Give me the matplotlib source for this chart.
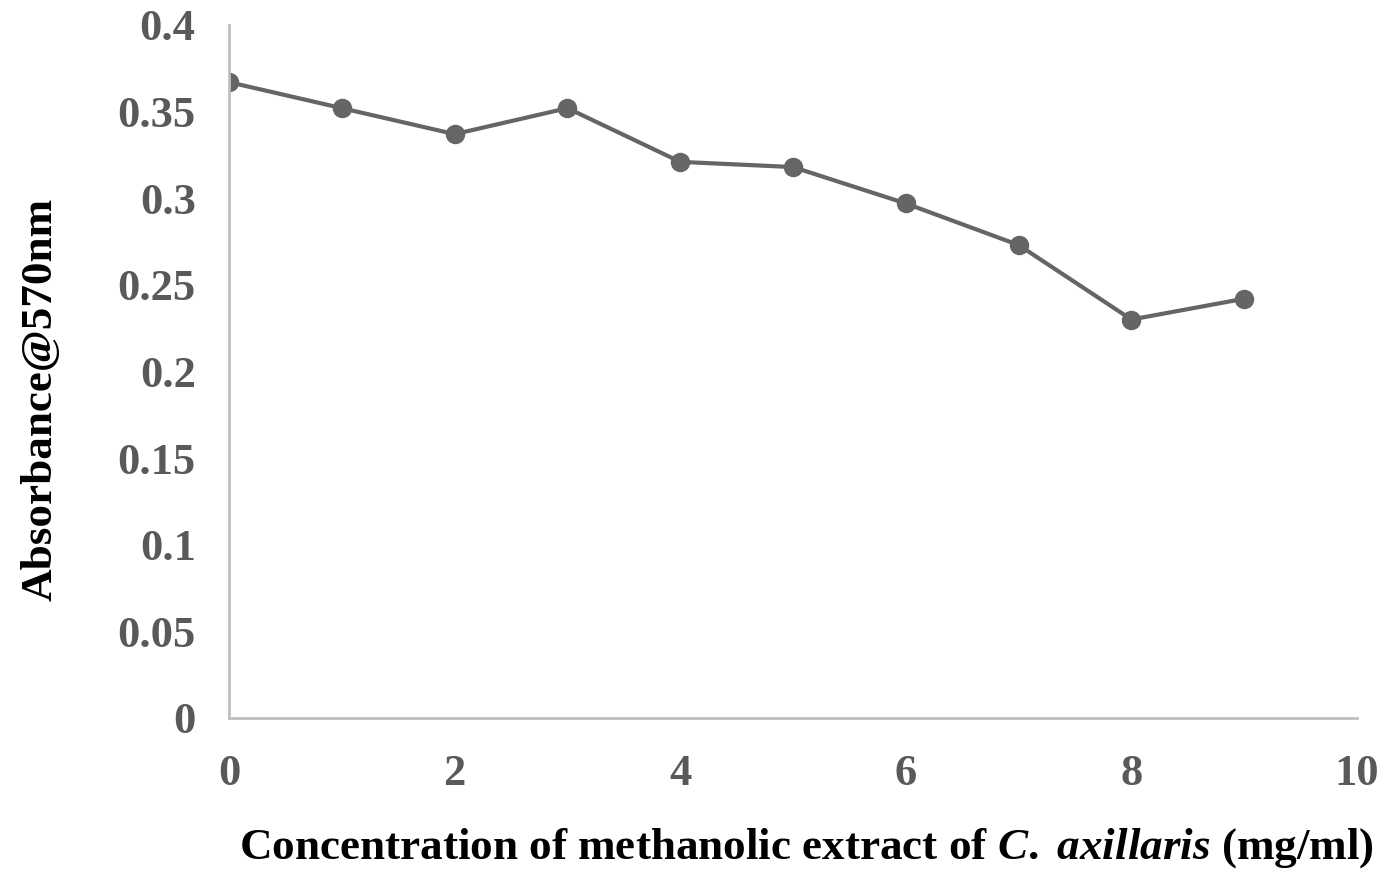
"""
plot.py - absorbance vs extract concentration
"""

import matplotlib
matplotlib.use('Agg')
import matplotlib.pyplot as plt

concentration = [0, 1, 2, 3, 4, 5, 6, 7, 8, 9]
absorbance = [0.367, 0.352, 0.337, 0.352, 0.321, 0.318, 0.297, 0.273, 0.230, 0.242]

x_ticks = [0, 2, 4, 6, 8, 10]
y_ticks = [0, 0.05, 0.1, 0.15, 0.2, 0.25, 0.3, 0.35, 0.4]
y_tick_labels = ['0', '0.05', '0.1', '0.15', '0.2', '0.25', '0.3', '0.35', '0.4']

plt.rcParams['font.family'] = ['Liberation Serif', 'DejaVu Serif']
plt.rcParams['font.weight'] = 'bold'
plt.rcParams['mathtext.fontset'] = 'custom'
plt.rcParams['mathtext.it'] = 'Liberation Serif:italic:bold'
plt.rcParams['mathtext.rm'] = 'Liberation Serif:bold'

fig = plt.figure(figsize=(13.84, 8.77), dpi=100)
ax = fig.add_axes([0.1655, 0.1813, 0.815, 0.7902])

ax.plot(concentration, absorbance, color='#656565', linewidth=3, marker='o',
        markersize=13, solid_capstyle='round')

ax.set_xlim(0, 10)
ax.set_ylim(0, 0.4)
ax.set_xticks(x_ticks)
ax.set_yticks(y_ticks)
ax.set_yticklabels(y_tick_labels)
ax.tick_params(axis='both', length=0, labelsize=32, labelcolor='#595959')
ax.tick_params(axis='y', pad=24)
ax.tick_params(axis='x', pad=26)
for label in ax.get_xticklabels() + ax.get_yticklabels():
    label.set_fontweight('bold')

for side in ['top', 'right']:
    ax.spines[side].set_visible(False)
for side in ['left', 'bottom']:
    ax.spines[side].set_color('#BFBFBF')
    ax.spines[side].set_linewidth(2)

fig.text(0.583, 0.033, r'Concentration of methanolic extract of $\mathit{C.}$ $\mathit{axillaris}$ (mg/ml)',
         ha='center', va='center', fontsize=32.5, fontweight='bold', color='black')
fig.text(0.029, 0.545, 'Absorbance@570nm', ha='center', va='center', rotation=90,
         fontsize=32.5, fontweight='bold', color='black')

plt.savefig('out.png', dpi=100)
plt.close(fig)
